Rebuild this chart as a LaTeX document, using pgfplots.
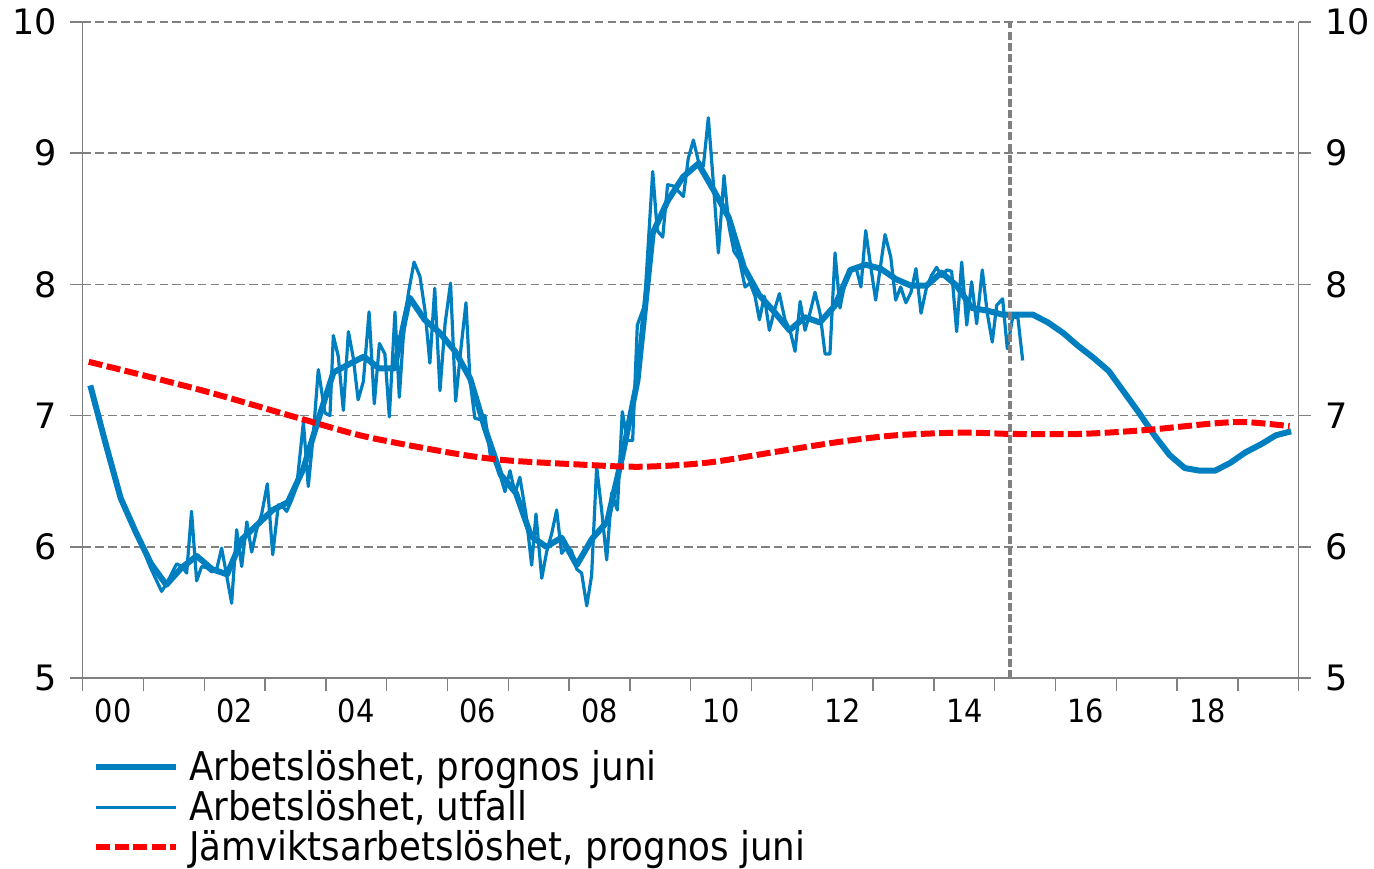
\documentclass[border=0pt]{standalone}
\usepackage{fontspec}
\setmainfont{DejaVu Sans}
\newfontfamily\condfont{DejaVu Sans Condensed}
\usepackage{pgfplots}
\pgfplotsset{compat=1.18}
\definecolor{rbblue}{RGB}{0,127,192}
\definecolor{gridgray}{RGB}{128,128,128}
\definecolor{rbred}{RGB}{255,0,0}
\begin{document}
\begin{tikzpicture}
\begin{axis}[name=ax, scale only axis, width=608pt, height=328pt,
  xmin=2000, xmax=2020, ymin=5, ymax=10,
  axis x line*=bottom, axis y line*=left,
  axis line style={gridgray, line width=0.75pt, -},
  tick style={gridgray, line width=0.75pt},
  tick align=outside, major tick length=6.3pt,
  xtick={2000,2001,...,2020}, xticklabels={},
  extra x ticks={2000.5,2002.5,2004.5,2006.5,2008.5,2010.5,2012.5,2014.5,2016.5,2018.5},
  extra x tick labels={00,02,04,06,08,10,12,14,16,18},
  extra x tick style={major tick length=0pt, grid=none},
  xticklabel style={font=\condfont\fontsize{16}{19}\selectfont, text=black, yshift=-7pt},
  ytick={5,6,7,8,9,10},
  /pgf/number format/assume math mode=true,
  yticklabel style={font=\fontsize{17.5}{21}\selectfont, text=black, xshift=-3pt},
  ymajorgrids, grid style={gridgray, line width=0.85pt, dash pattern=on 4.2pt off 2.2pt},
  legend image code/.code={\draw[#1] (0pt,0pt) -- (40pt,0pt); \path (43pt,0pt);},
  legend style={at={(axis description cs:0.0035,-0.098)}, anchor=north west, draw=none, fill=none,
    font=\condfont\fontsize{19.8}{22}\selectfont, legend cell align=left, row sep=-0.5pt},
  clip=false,
]
% Arbetsloshet, prognos juni (quarterly)
\addplot[rbblue, line width=3pt, line join=round] coordinates {
(2000.125,7.23) (2000.375,6.79) (2000.625,6.37) (2000.875,6.11)
(2001.125,5.87) (2001.375,5.71) (2001.625,5.84) (2001.875,5.93)
(2002.125,5.83) (2002.375,5.79) (2002.625,6.06) (2002.875,6.17)
(2003.125,6.28) (2003.375,6.34) (2003.625,6.59) (2003.875,6.97)
(2004.125,7.33) (2004.375,7.39) (2004.625,7.45) (2004.875,7.36)
(2005.125,7.36) (2005.375,7.90) (2005.625,7.73) (2005.875,7.63)
(2006.125,7.49) (2006.375,7.28) (2006.625,6.89) (2006.875,6.55)
(2007.125,6.41) (2007.375,6.08) (2007.625,6.00) (2007.875,6.07)
(2008.125,5.86) (2008.375,6.06) (2008.625,6.19) (2008.875,6.69)
(2009.125,7.27) (2009.375,8.39) (2009.625,8.64) (2009.875,8.82)
(2010.125,8.92) (2010.375,8.72) (2010.625,8.51) (2010.875,8.13)
(2011.125,7.92) (2011.375,7.79) (2011.625,7.65) (2011.875,7.75)
(2012.125,7.71) (2012.375,7.84) (2012.625,8.11) (2012.875,8.15)
(2013.125,8.12) (2013.375,8.04) (2013.625,7.99) (2013.875,7.99)
(2014.125,8.09) (2014.375,7.99) (2014.625,7.82) (2014.875,7.80)
(2015.125,7.77) (2015.375,7.77) (2015.625,7.77) (2015.875,7.71)
(2016.125,7.63) (2016.375,7.53) (2016.625,7.44) (2016.875,7.34)
(2017.125,7.18) (2017.375,7.02) (2017.625,6.85) (2017.875,6.70)
(2018.125,6.60) (2018.375,6.58) (2018.625,6.58) (2018.875,6.64)
(2019.125,6.72) (2019.375,6.78) (2019.625,6.85) (2019.875,6.88)
};
\addlegendentry{Arbetslöshet, prognos juni}
% Arbetsloshet, utfall (monthly)
\addplot[rbblue, line width=1.6pt, line join=round] coordinates {
(2001.04,5.93) (2001.107,5.85) (2001.298,5.66) (2001.38,5.72) (2001.545,5.87) (2001.63,5.85)
(2001.71,5.80) (2001.79,6.27) (2001.874,5.74) (2001.957,5.85) (2002.04,5.84) (2002.12,5.81)
(2002.20,5.82) (2002.285,5.99) (2002.368,5.78) (2002.45,5.57) (2002.532,6.13) (2002.615,5.85)
(2002.70,6.19) (2002.78,5.96) (2002.86,6.13) (2002.944,6.25) (2003.037,6.48) (2003.125,5.94)
(2003.218,6.32) (2003.30,6.30) (2003.355,6.27) (2003.44,6.36) (2003.52,6.46) (2003.63,6.95)
(2003.71,6.46) (2003.79,6.84) (2003.875,7.35) (2003.985,7.02) (2004.067,7.00) (2004.122,7.61)
(2004.204,7.45) (2004.287,7.04) (2004.37,7.64) (2004.45,7.44) (2004.53,7.12) (2004.616,7.26)
(2004.71,7.79) (2004.796,7.09) (2004.88,7.55) (2004.97,7.47) (2005.043,6.99) (2005.136,7.79)
(2005.207,7.14) (2005.27,7.58) (2005.355,7.93) (2005.45,8.17) (2005.547,8.06) (2005.63,7.80)
(2005.71,7.40) (2005.79,7.97) (2005.876,7.19) (2005.96,7.70) (2006.05,8.01) (2006.134,7.11)
(2006.216,7.49) (2006.304,7.86) (2006.37,7.27) (2006.45,6.98) (2006.534,6.97) (2006.616,7.00)
(2006.70,6.71) (2006.78,6.65) (2006.863,6.55) (2006.945,6.42) (2007.028,6.58) (2007.11,6.41)
(2007.19,6.53) (2007.29,6.25) (2007.384,5.86) (2007.455,6.25) (2007.55,5.76) (2007.63,5.96)
(2007.713,6.10) (2007.795,6.28) (2007.877,5.95) (2007.96,6.00) (2008.04,5.97) (2008.124,5.83)
(2008.206,5.80) (2008.29,5.55) (2008.37,5.78) (2008.453,6.61) (2008.535,6.28) (2008.618,5.90)
(2008.70,6.41) (2008.793,6.28) (2008.875,7.03) (2008.957,6.81) (2009.045,6.81) (2009.122,7.69)
(2009.24,7.84) (2009.375,8.86) (2009.45,8.41) (2009.54,8.36) (2009.62,8.76) (2009.715,8.75)
(2009.797,8.71) (2009.88,8.67) (2009.96,8.96) (2010.044,9.10) (2010.126,8.94) (2010.208,8.90)
(2010.29,9.27) (2010.373,8.77) (2010.455,8.24) (2010.548,8.83) (2010.63,8.44) (2010.712,8.25)
(2010.80,8.19) (2010.894,7.98) (2010.976,8.01) (2011.058,7.91) (2011.13,7.73) (2011.21,7.91)
(2011.294,7.65) (2011.376,7.80) (2011.458,7.93) (2011.55,7.73) (2011.634,7.65) (2011.716,7.49)
(2011.80,7.87) (2011.88,7.65) (2011.96,7.78) (2012.045,7.94) (2012.127,7.78) (2012.21,7.47)
(2012.29,7.47) (2012.374,8.24) (2012.455,7.82) (2012.54,8.02) (2012.647,8.12) (2012.73,8.11)
(2012.80,7.98) (2012.878,8.41) (2012.96,8.14) (2013.042,7.88) (2013.196,8.38) (2013.29,8.21)
(2013.371,7.88) (2013.453,7.98) (2013.54,7.86) (2013.623,7.94) (2013.705,8.12) (2013.788,7.78)
(2013.88,7.98) (2013.963,8.07) (2014.045,8.13) (2014.128,8.06) (2014.21,8.11) (2014.292,8.10)
(2014.374,7.64) (2014.457,8.17) (2014.54,7.69) (2014.62,8.02) (2014.703,7.70) (2014.796,8.11)
(2014.878,7.78) (2014.96,7.56) (2015.032,7.84) (2015.13,7.89) (2015.207,7.51) (2015.295,7.75)
(2015.38,7.75) (2015.46,7.42)
};
\addlegendentry{Arbetslöshet, utfall}
% vertical marker
\addplot[gridgray, line width=1.7pt, dash pattern=on 4pt off 1.6pt, forget plot] coordinates {(2015.25,5) (2015.25,10)};
% Jamviktsarbetsloshet
\addplot[rbred, line width=3pt, dash pattern=on 7pt off 2.2pt, smooth] coordinates {
(2000.1,7.41) (2001.9,7.20) (2003.56,6.98) (2004.65,6.84) (2006.13,6.71) (2006.95,6.66)
(2008.05,6.63) (2009.15,6.61) (2010.25,6.64) (2011.35,6.72) (2012.45,6.80) (2013.38,6.85)
(2014.47,6.87) (2015.3,6.86) (2016.4,6.86) (2017.49,6.89) (2018.59,6.94) (2019.14,6.95)
(2019.85,6.92)
};
\addlegendentry{Jämviktsarbetslöshet, prognos juni}
\end{axis}
\begin{axis}[scale only axis, width=608pt, height=328pt,
  xmin=2000, xmax=2020, ymin=5, ymax=10,
  axis x line=none, axis y line*=right,
  axis line style={gridgray, line width=0.75pt, -},
  tick style={gridgray, line width=0.75pt},
  tick align=outside, major tick length=6.3pt,
  ytick={5,6,7,8,9,10},
  /pgf/number format/assume math mode=true,
  yticklabel style={font=\fontsize{17.5}{21}\selectfont, text=black, xshift=3.5pt},
]
\addplot[draw=none] coordinates {(2000,5)};
\end{axis}
\pgfresetboundingbox
\useasboundingbox ([xshift=-41.35pt,yshift=-95.15pt]ax.south west) rectangle ([xshift=37.65pt,yshift=11pt]ax.north east);
\end{tikzpicture}
\end{document}
